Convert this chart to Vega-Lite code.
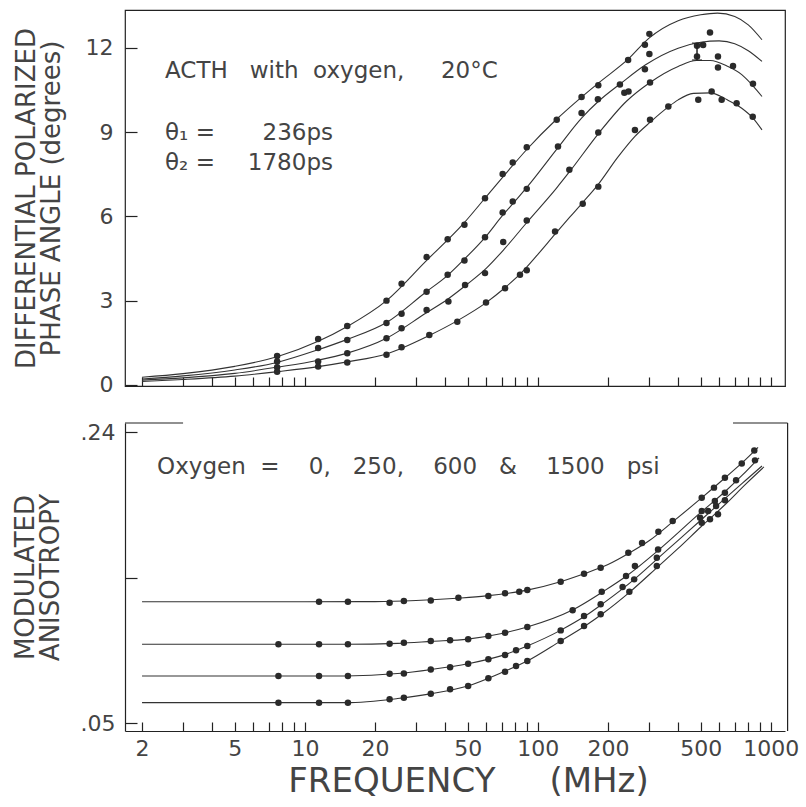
{
  "$schema": "https://vega.github.io/schema/vega-lite/v6.json",
  "background": "white",
  "padding": {"left": 12, "top": 9, "right": 4, "bottom": 2},
  "config": {
    "font": "DejaVu Sans",
    "axis": {
      "grid": false,
      "domainColor": "#222",
      "domainWidth": 1.2,
      "tickColor": "#222",
      "tickWidth": 1.2,
      "labelColor": "#444",
      "titleColor": "#444",
      "labelFont": "DejaVu Sans",
      "titleFont": "DejaVu Sans",
      "labelFontWeight": "normal",
      "titleFontWeight": "normal"
    },
    "concat": {"spacing": 24}
  },
  "datasets": {
    "phase_fit": [
      {"psi": 0, "freq": 2, "phase": 0.27}, {"psi": 0, "freq": 3, "phase": 0.4}, {"psi": 0, "freq": 5, "phase": 0.66}, {"psi": 0, "freq": 7.6, "phase": 1.0}, {"psi": 0, "freq": 11.4, "phase": 1.55}, {"psi": 0, "freq": 15.2, "phase": 2.08}, {"psi": 0, "freq": 22.4, "phase": 3.0}, {"psi": 0, "freq": 33, "phase": 4.4}, {"psi": 0, "freq": 48, "phase": 5.75}, {"psi": 0, "freq": 60, "phase": 6.7}, {"psi": 0, "freq": 75, "phase": 7.65}, {"psi": 0, "freq": 90, "phase": 8.4}, {"psi": 0, "freq": 120, "phase": 9.45}, {"psi": 0, "freq": 154, "phase": 10.25}, {"psi": 0, "freq": 182, "phase": 10.75}, {"psi": 0, "freq": 244, "phase": 11.6}, {"psi": 0, "freq": 300, "phase": 12.35}, {"psi": 0, "freq": 400, "phase": 12.97}, {"psi": 0, "freq": 500, "phase": 13.18}, {"psi": 0, "freq": 590, "phase": 13.24}, {"psi": 0, "freq": 700, "phase": 13.12}, {"psi": 0, "freq": 800, "phase": 12.82}, {"psi": 0, "freq": 916, "phase": 12.29},
      {"psi": 250, "freq": 2, "phase": 0.21}, {"psi": 250, "freq": 3, "phase": 0.32}, {"psi": 250, "freq": 5, "phase": 0.53}, {"psi": 250, "freq": 7.6, "phase": 0.8}, {"psi": 250, "freq": 11.4, "phase": 1.25}, {"psi": 250, "freq": 15.2, "phase": 1.62}, {"psi": 250, "freq": 22.4, "phase": 2.22}, {"psi": 250, "freq": 33, "phase": 3.3}, {"psi": 250, "freq": 41, "phase": 3.9}, {"psi": 250, "freq": 48, "phase": 4.45}, {"psi": 250, "freq": 60, "phase": 5.3}, {"psi": 250, "freq": 70, "phase": 6.0}, {"psi": 250, "freq": 80, "phase": 6.55}, {"psi": 250, "freq": 90, "phase": 7.05}, {"psi": 250, "freq": 122, "phase": 8.45}, {"psi": 250, "freq": 154, "phase": 9.5}, {"psi": 250, "freq": 182, "phase": 10.1}, {"psi": 250, "freq": 228, "phase": 10.75}, {"psi": 250, "freq": 290, "phase": 11.4}, {"psi": 250, "freq": 400, "phase": 11.99}, {"psi": 250, "freq": 500, "phase": 12.2}, {"psi": 250, "freq": 600, "phase": 12.25}, {"psi": 250, "freq": 700, "phase": 12.15}, {"psi": 250, "freq": 800, "phase": 11.9}, {"psi": 250, "freq": 916, "phase": 11.52},
      {"psi": 600, "freq": 2, "phase": 0.17}, {"psi": 600, "freq": 3, "phase": 0.25}, {"psi": 600, "freq": 5, "phase": 0.41}, {"psi": 600, "freq": 7.6, "phase": 0.63}, {"psi": 600, "freq": 11.4, "phase": 0.88}, {"psi": 600, "freq": 15.2, "phase": 1.13}, {"psi": 600, "freq": 22.4, "phase": 1.66}, {"psi": 600, "freq": 33, "phase": 2.55}, {"psi": 600, "freq": 41, "phase": 3.05}, {"psi": 600, "freq": 50, "phase": 3.6}, {"psi": 600, "freq": 60, "phase": 4.15}, {"psi": 600, "freq": 72, "phase": 4.85}, {"psi": 600, "freq": 90, "phase": 5.8}, {"psi": 600, "freq": 120, "phase": 7.0}, {"psi": 600, "freq": 137, "phase": 7.6}, {"psi": 600, "freq": 182, "phase": 8.95}, {"psi": 600, "freq": 240, "phase": 10.1}, {"psi": 600, "freq": 303, "phase": 10.77}, {"psi": 600, "freq": 400, "phase": 11.34}, {"psi": 600, "freq": 480, "phase": 11.55}, {"psi": 600, "freq": 550, "phase": 11.55}, {"psi": 600, "freq": 650, "phase": 11.35}, {"psi": 600, "freq": 750, "phase": 11.05}, {"psi": 600, "freq": 838, "phase": 10.65}, {"psi": 600, "freq": 916, "phase": 10.27},
      {"psi": 1500, "freq": 2, "phase": 0.12}, {"psi": 1500, "freq": 3, "phase": 0.19}, {"psi": 1500, "freq": 5, "phase": 0.31}, {"psi": 1500, "freq": 7.6, "phase": 0.47}, {"psi": 1500, "freq": 11.4, "phase": 0.65}, {"psi": 1500, "freq": 15.2, "phase": 0.82}, {"psi": 1500, "freq": 22.4, "phase": 1.1}, {"psi": 1500, "freq": 34, "phase": 1.75}, {"psi": 1500, "freq": 45, "phase": 2.28}, {"psi": 1500, "freq": 60, "phase": 2.93}, {"psi": 1500, "freq": 72, "phase": 3.45}, {"psi": 1500, "freq": 84, "phase": 3.95}, {"psi": 1500, "freq": 100, "phase": 4.65}, {"psi": 1500, "freq": 118, "phase": 5.35}, {"psi": 1500, "freq": 137, "phase": 5.97}, {"psi": 1500, "freq": 156, "phase": 6.5}, {"psi": 1500, "freq": 182, "phase": 7.15}, {"psi": 1500, "freq": 220, "phase": 8.1}, {"psi": 1500, "freq": 261, "phase": 8.85}, {"psi": 1500, "freq": 303, "phase": 9.35}, {"psi": 1500, "freq": 363, "phase": 9.9}, {"psi": 1500, "freq": 400, "phase": 10.15}, {"psi": 1500, "freq": 465, "phase": 10.38}, {"psi": 1500, "freq": 550, "phase": 10.4}, {"psi": 1500, "freq": 650, "phase": 10.15}, {"psi": 1500, "freq": 750, "phase": 9.85}, {"psi": 1500, "freq": 838, "phase": 9.5}, {"psi": 1500, "freq": 916, "phase": 9.08}
    ],
    "phase_pts": [
      {"psi": 0, "freq": 7.6, "phase": 1.03}, {"psi": 0, "freq": 11.4, "phase": 1.63}, {"psi": 0, "freq": 15.2, "phase": 2.1}, {"psi": 0, "freq": 22.4, "phase": 3.0}, {"psi": 0, "freq": 26, "phase": 3.6}, {"psi": 0, "freq": 33.3, "phase": 4.55}, {"psi": 0, "freq": 41, "phase": 5.19}, {"psi": 0, "freq": 48.4, "phase": 5.7}, {"psi": 0, "freq": 59.3, "phase": 6.65}, {"psi": 0, "freq": 70.6, "phase": 7.51}, {"psi": 0, "freq": 78, "phase": 7.92}, {"psi": 0, "freq": 89.6, "phase": 8.46}, {"psi": 0, "freq": 120.5, "phase": 9.44}, {"psi": 0, "freq": 154, "phase": 10.25}, {"psi": 0, "freq": 181.7, "phase": 10.67}, {"psi": 0, "freq": 244, "phase": 11.57}, {"psi": 0, "freq": 288, "phase": 12.11}, {"psi": 0, "freq": 301, "phase": 12.5},
      {"psi": 250, "freq": 7.6, "phase": 0.83}, {"psi": 250, "freq": 11.4, "phase": 1.31}, {"psi": 250, "freq": 15.2, "phase": 1.6}, {"psi": 250, "freq": 22.4, "phase": 2.2}, {"psi": 250, "freq": 26, "phase": 2.53}, {"psi": 250, "freq": 33.3, "phase": 3.32}, {"psi": 250, "freq": 41, "phase": 3.92}, {"psi": 250, "freq": 48.4, "phase": 4.43}, {"psi": 250, "freq": 59.3, "phase": 5.26}, {"psi": 250, "freq": 70.6, "phase": 6.14}, {"psi": 250, "freq": 78, "phase": 6.53}, {"psi": 250, "freq": 89.6, "phase": 6.98}, {"psi": 250, "freq": 122, "phase": 8.49}, {"psi": 250, "freq": 154, "phase": 9.68}, {"psi": 250, "freq": 181, "phase": 10.17}, {"psi": 250, "freq": 225, "phase": 10.7}, {"psi": 250, "freq": 288, "phase": 11.24}, {"psi": 250, "freq": 301, "phase": 11.78}, {"psi": 250, "freq": 482, "phase": 12.08}, {"psi": 250, "freq": 512, "phase": 12.1}, {"psi": 250, "freq": 548, "phase": 12.55},
      {"psi": 600, "freq": 7.6, "phase": 0.63}, {"psi": 600, "freq": 11.4, "phase": 0.83}, {"psi": 600, "freq": 15.2, "phase": 1.13}, {"psi": 600, "freq": 22.4, "phase": 1.66}, {"psi": 600, "freq": 26, "phase": 2.02}, {"psi": 600, "freq": 33.3, "phase": 2.67}, {"psi": 600, "freq": 41.3, "phase": 2.97}, {"psi": 600, "freq": 48.7, "phase": 3.56}, {"psi": 600, "freq": 59.3, "phase": 3.98}, {"psi": 600, "freq": 71, "phase": 5.09}, {"psi": 600, "freq": 89.6, "phase": 5.85}, {"psi": 600, "freq": 136.5, "phase": 7.66}, {"psi": 600, "freq": 181.7, "phase": 8.99}, {"psi": 600, "freq": 235, "phase": 10.4}, {"psi": 600, "freq": 245, "phase": 10.45}, {"psi": 600, "freq": 303, "phase": 10.77}, {"psi": 600, "freq": 482, "phase": 11.69}, {"psi": 600, "freq": 593, "phase": 11.69}, {"psi": 600, "freq": 593, "phase": 11.3}, {"psi": 600, "freq": 688, "phase": 11.36}, {"psi": 600, "freq": 838, "phase": 10.72},
      {"psi": 1500, "freq": 7.6, "phase": 0.47}, {"psi": 1500, "freq": 11.4, "phase": 0.65}, {"psi": 1500, "freq": 15.2, "phase": 0.8}, {"psi": 1500, "freq": 22.4, "phase": 1.07}, {"psi": 1500, "freq": 26, "phase": 1.34}, {"psi": 1500, "freq": 34.2, "phase": 1.78}, {"psi": 1500, "freq": 45.1, "phase": 2.25}, {"psi": 1500, "freq": 59.9, "phase": 2.93}, {"psi": 1500, "freq": 72.3, "phase": 3.44}, {"psi": 1500, "freq": 83.8, "phase": 3.92}, {"psi": 1500, "freq": 89.6, "phase": 4.08}, {"psi": 1500, "freq": 118.5, "phase": 5.46}, {"psi": 1500, "freq": 155.8, "phase": 6.45}, {"psi": 1500, "freq": 181.7, "phase": 7.06}, {"psi": 1500, "freq": 261, "phase": 9.08}, {"psi": 1500, "freq": 303, "phase": 9.44}, {"psi": 1500, "freq": 363, "phase": 9.91}, {"psi": 1500, "freq": 488, "phase": 10.15}, {"psi": 1500, "freq": 557, "phase": 10.45}, {"psi": 1500, "freq": 615, "phase": 10.15}, {"psi": 1500, "freq": 713, "phase": 10.03}, {"psi": 1500, "freq": 836, "phase": 9.55}
    ],
    "phase_err": [
      {"psi": 250, "freq": 482, "phase": 11.57, "phase_high": 12.17}
    ],
    "phase_err_caps": [
      {"psi": 250, "freq": 482, "phase": 11.57}, {"psi": 250, "freq": 482, "phase": 12.17}
    ],
    "aniso_fit": [
      {"psi": 1500, "freq": 2, "r": 0.1292}, {"psi": 1500, "freq": 10, "r": 0.1292}, {"psi": 1500, "freq": 20, "r": 0.1293}, {"psi": 1500, "freq": 30, "r": 0.13}, {"psi": 1500, "freq": 45, "r": 0.1315}, {"psi": 1500, "freq": 60, "r": 0.133}, {"psi": 1500, "freq": 90, "r": 0.1368}, {"psi": 1500, "freq": 125, "r": 0.1423}, {"psi": 1500, "freq": 160, "r": 0.1478}, {"psi": 1500, "freq": 200, "r": 0.1535}, {"psi": 1500, "freq": 250, "r": 0.1615}, {"psi": 1500, "freq": 300, "r": 0.169}, {"psi": 1500, "freq": 380, "r": 0.1815}, {"psi": 1500, "freq": 500, "r": 0.1965}, {"psi": 1500, "freq": 640, "r": 0.2105}, {"psi": 1500, "freq": 760, "r": 0.2205}, {"psi": 1500, "freq": 881, "r": 0.23},
      {"psi": 600, "freq": 2, "r": 0.1014}, {"psi": 600, "freq": 15, "r": 0.1014}, {"psi": 600, "freq": 25, "r": 0.102}, {"psi": 600, "freq": 35, "r": 0.1033}, {"psi": 600, "freq": 50, "r": 0.1048}, {"psi": 600, "freq": 70, "r": 0.1085}, {"psi": 600, "freq": 90, "r": 0.1127}, {"psi": 600, "freq": 140, "r": 0.1236}, {"psi": 600, "freq": 190, "r": 0.1357}, {"psi": 600, "freq": 240, "r": 0.146}, {"psi": 600, "freq": 330, "r": 0.163}, {"psi": 600, "freq": 500, "r": 0.1875}, {"psi": 600, "freq": 640, "r": 0.2015}, {"psi": 600, "freq": 750, "r": 0.2115}, {"psi": 600, "freq": 890, "r": 0.2232},
      {"psi": 250, "freq": 2, "r": 0.0807}, {"psi": 250, "freq": 15, "r": 0.0807}, {"psi": 250, "freq": 25, "r": 0.0823}, {"psi": 250, "freq": 35, "r": 0.085}, {"psi": 250, "freq": 50, "r": 0.0887}, {"psi": 250, "freq": 70, "r": 0.094}, {"psi": 250, "freq": 90, "r": 0.1003}, {"psi": 250, "freq": 125, "r": 0.1105}, {"psi": 250, "freq": 160, "r": 0.12}, {"psi": 250, "freq": 190, "r": 0.128}, {"psi": 250, "freq": 260, "r": 0.144}, {"psi": 250, "freq": 330, "r": 0.158}, {"psi": 250, "freq": 400, "r": 0.1693}, {"psi": 250, "freq": 500, "r": 0.1824}, {"psi": 250, "freq": 640, "r": 0.197}, {"psi": 250, "freq": 780, "r": 0.2085}, {"psi": 250, "freq": 916, "r": 0.2178},
      {"psi": 0, "freq": 2, "r": 0.0633}, {"psi": 0, "freq": 15, "r": 0.0633}, {"psi": 0, "freq": 25, "r": 0.066}, {"psi": 0, "freq": 35, "r": 0.0692}, {"psi": 0, "freq": 50, "r": 0.0742}, {"psi": 0, "freq": 70, "r": 0.083}, {"psi": 0, "freq": 90, "r": 0.0905}, {"psi": 0, "freq": 125, "r": 0.1035}, {"psi": 0, "freq": 160, "r": 0.1135}, {"psi": 0, "freq": 190, "r": 0.1215}, {"psi": 0, "freq": 250, "r": 0.136}, {"psi": 0, "freq": 330, "r": 0.1525}, {"psi": 0, "freq": 400, "r": 0.164}, {"psi": 0, "freq": 500, "r": 0.178}, {"psi": 0, "freq": 640, "r": 0.193}, {"psi": 0, "freq": 780, "r": 0.206}, {"psi": 0, "freq": 934, "r": 0.2172}
    ],
    "aniso_pts": [
      {"psi": 1500, "freq": 11.5, "r": 0.1292}, {"psi": 1500, "freq": 15.3, "r": 0.1292}, {"psi": 1500, "freq": 23.1, "r": 0.1286}, {"psi": 1500, "freq": 26.6, "r": 0.1297}, {"psi": 1500, "freq": 34.7, "r": 0.13}, {"psi": 1500, "freq": 45.6, "r": 0.1318}, {"psi": 1500, "freq": 61.3, "r": 0.1329}, {"psi": 1500, "freq": 72.3, "r": 0.1347}, {"psi": 1500, "freq": 83.2, "r": 0.1357}, {"psi": 1500, "freq": 90.1, "r": 0.1368}, {"psi": 1500, "freq": 125.3, "r": 0.1423}, {"psi": 1500, "freq": 157.8, "r": 0.1475}, {"psi": 1500, "freq": 186, "r": 0.1514}, {"psi": 1500, "freq": 244.5, "r": 0.1612}, {"psi": 1500, "freq": 280, "r": 0.1675}, {"psi": 1500, "freq": 329, "r": 0.1749}, {"psi": 1500, "freq": 379, "r": 0.1819}, {"psi": 1500, "freq": 505, "r": 0.1971}, {"psi": 1500, "freq": 570, "r": 0.2037}, {"psi": 1500, "freq": 635, "r": 0.2102}, {"psi": 1500, "freq": 750, "r": 0.2194}, {"psi": 1500, "freq": 849, "r": 0.228},
      {"psi": 600, "freq": 7.7, "r": 0.1014}, {"psi": 600, "freq": 11.5, "r": 0.1014}, {"psi": 600, "freq": 15.3, "r": 0.1014}, {"psi": 600, "freq": 23.1, "r": 0.1018}, {"psi": 600, "freq": 26.6, "r": 0.1024}, {"psi": 600, "freq": 34.7, "r": 0.1035}, {"psi": 600, "freq": 42, "r": 0.104}, {"psi": 600, "freq": 50.2, "r": 0.1047}, {"psi": 600, "freq": 61.3, "r": 0.1068}, {"psi": 600, "freq": 72.3, "r": 0.109}, {"psi": 600, "freq": 90.1, "r": 0.1127}, {"psi": 600, "freq": 141, "r": 0.1236}, {"psi": 600, "freq": 188, "r": 0.1357}, {"psi": 600, "freq": 239, "r": 0.146}, {"psi": 600, "freq": 261, "r": 0.1525}, {"psi": 600, "freq": 328, "r": 0.1633}, {"psi": 600, "freq": 505, "r": 0.1884}, {"psi": 600, "freq": 575, "r": 0.195}, {"psi": 600, "freq": 635, "r": 0.2004}, {"psi": 600, "freq": 709, "r": 0.2085}, {"psi": 600, "freq": 855, "r": 0.2215},
      {"psi": 250, "freq": 7.7, "r": 0.0807}, {"psi": 250, "freq": 11.5, "r": 0.0807}, {"psi": 250, "freq": 15.3, "r": 0.0807}, {"psi": 250, "freq": 23.1, "r": 0.0822}, {"psi": 250, "freq": 26.6, "r": 0.0824}, {"psi": 250, "freq": 34.7, "r": 0.085}, {"psi": 250, "freq": 42, "r": 0.0864}, {"psi": 250, "freq": 50.2, "r": 0.0887}, {"psi": 250, "freq": 61.3, "r": 0.0916}, {"psi": 250, "freq": 72.3, "r": 0.0944}, {"psi": 250, "freq": 80.6, "r": 0.0975}, {"psi": 250, "freq": 90.1, "r": 0.1003}, {"psi": 250, "freq": 125.3, "r": 0.1105}, {"psi": 250, "freq": 157.8, "r": 0.1199}, {"psi": 250, "freq": 186, "r": 0.1275}, {"psi": 250, "freq": 231, "r": 0.1388}, {"psi": 250, "freq": 259, "r": 0.1438}, {"psi": 250, "freq": 324, "r": 0.1579}, {"psi": 250, "freq": 497, "r": 0.1841}, {"psi": 250, "freq": 538, "r": 0.1884}, {"psi": 250, "freq": 582, "r": 0.1917}, {"psi": 250, "freq": 635, "r": 0.1954},
      {"psi": 0, "freq": 7.7, "r": 0.0633}, {"psi": 0, "freq": 11.5, "r": 0.0633}, {"psi": 0, "freq": 15.3, "r": 0.0633}, {"psi": 0, "freq": 23.1, "r": 0.0655}, {"psi": 0, "freq": 26.6, "r": 0.0665}, {"psi": 0, "freq": 34.7, "r": 0.0691}, {"psi": 0, "freq": 42, "r": 0.072}, {"psi": 0, "freq": 50.2, "r": 0.0742}, {"psi": 0, "freq": 61.3, "r": 0.0792}, {"psi": 0, "freq": 72.3, "r": 0.0835}, {"psi": 0, "freq": 80.6, "r": 0.0872}, {"psi": 0, "freq": 90.1, "r": 0.0905}, {"psi": 0, "freq": 125.3, "r": 0.1035}, {"psi": 0, "freq": 157.8, "r": 0.1133}, {"psi": 0, "freq": 186, "r": 0.121}, {"psi": 0, "freq": 247, "r": 0.1357}, {"psi": 0, "freq": 324, "r": 0.1525}, {"psi": 0, "freq": 505, "r": 0.1808}, {"psi": 0, "freq": 548, "r": 0.183}, {"psi": 0, "freq": 593, "r": 0.1863}
    ]
  },
  "vconcat": [
    {
      "width": 660,
      "height": 376,
      "view": {"stroke": "#222", "strokeWidth": 1.2},
      "layer": [
        {
          "data": {"name": "phase_fit"},
          "mark": {"type": "line", "interpolate": "monotone", "color": "#333", "strokeWidth": 1.1},
          "encoding": {
            "x": {"field": "freq", "type": "quantitative",
              "scale": {"type": "log", "domain": [1.69, 1150], "nice": false},
              "axis": {"values": [2,3,4,5,6,7,8,9,10,20,30,40,50,60,70,80,90,100,200,300,400,500,600,700,800,900,1000], "labels": false, "tickSize": -9, "title": null, "domain": true}},
            "y": {"field": "phase", "type": "quantitative",
              "scale": {"domain": [-0.04, 13.35], "nice": false, "zero": false},
              "axis": {"values": [0, 3, 6, 9, 12], "tickSize": -12, "labelPadding": 24, "labelFontSize": 22, "domain": false,
                "title": ["DIFFERENTIAL POLARIZED", "PHASE ANGLE (degrees)"], "titleFontSize": 26, "titleLineHeight": 25, "titlePadding": 21}},
            "detail": {"field": "psi", "type": "nominal"}
          }
        },
        {
          "data": {"name": "phase_pts"},
          "mark": {"type": "point", "filled": true, "shape": "circle", "size": 42, "color": "#2a2a2a", "opacity": 1},
          "encoding": {
            "x": {"field": "freq", "type": "quantitative"},
            "y": {"field": "phase", "type": "quantitative"}
          }
        },
        {
          "data": {"name": "phase_err"},
          "mark": {"type": "rule", "color": "#222", "strokeWidth": 1.5},
          "encoding": {
            "x": {"field": "freq", "type": "quantitative"},
            "y": {"field": "phase", "type": "quantitative"},
            "y2": {"field": "phase_high"}
          }
        },
        {
          "data": {"name": "phase_err_caps"},
          "mark": {"type": "tick", "orient": "horizontal", "color": "#222", "size": 10, "thickness": 1.5},
          "encoding": {
            "x": {"field": "freq", "type": "quantitative"},
            "y": {"field": "phase", "type": "quantitative"}
          }
        },
        {
          "data": {"values": [{}]},
          "mark": {"type": "text", "text": "ACTH\u00a0\u00a0\u00a0with\u00a0\u00a0oxygen,\u00a0\u00a0\u00a0\u00a0\u00a020°C", "align": "left", "baseline": "alphabetic", "fontSize": 23, "color": "#444"},
          "encoding": {"x": {"datum": 2.51}, "y": {"datum": 10.93}}
        },
        {
          "data": {"values": [{}]},
          "mark": {"type": "text", "text": "θ₁ =", "align": "left", "baseline": "alphabetic", "fontSize": 23, "color": "#444"},
          "encoding": {"x": {"datum": 2.51}, "y": {"datum": 8.72}}
        },
        {
          "data": {"values": [{}]},
          "mark": {"type": "text", "text": "236ps", "align": "right", "baseline": "alphabetic", "fontSize": 23, "color": "#444"},
          "encoding": {"x": {"datum": 13.2}, "y": {"datum": 8.72}}
        },
        {
          "data": {"values": [{}]},
          "mark": {"type": "text", "text": "θ₂ =", "align": "left", "baseline": "alphabetic", "fontSize": 23, "color": "#444"},
          "encoding": {"x": {"datum": 2.51}, "y": {"datum": 7.66}}
        },
        {
          "data": {"values": [{}]},
          "mark": {"type": "text", "text": "1780ps", "align": "right", "baseline": "alphabetic", "fontSize": 23, "color": "#444"},
          "encoding": {"x": {"datum": 13.2}, "y": {"datum": 7.66}}
        }
      ]
    },
    {
      "width": 660,
      "height": 308,
      "view": {"stroke": null},
      "layer": [
        {
          "data": {"name": "aniso_fit"},
          "mark": {"type": "line", "interpolate": "monotone", "color": "#333", "strokeWidth": 1.1},
          "encoding": {
            "x": {"field": "freq", "type": "quantitative",
              "scale": {"type": "log", "domain": [1.69, 1150], "nice": false},
              "axis": {"values": [2,3,4,5,6,7,8,9,10,20,30,40,50,60,70,80,90,100,200,300,400,500,600,700,800,900,1000],
                "labelExpr": "indexof([2,5,10,20,50,100,200,500,1000], datum.value) >= 0 ? format(datum.value, 'd') : ''",
                "labelOverlap": false, "labelFlush": false, "labelFontSize": 22, "tickSize": -9, "labelPadding": 16,
                "title": "FREQUENCY\u00a0\u00a0\u00a0\u00a0\u00a0(MHz)", "titleFontSize": 34, "titlePadding": 5, "titleX": 343}},
            "y": {"field": "r", "type": "quantitative",
              "scale": {"domain": [0.0448, 0.2459], "nice": false, "zero": false},
              "axis": {"values": [0.05, 0.145, 0.24], "labelExpr": "datum.value < 0.1 ? '.05' : (datum.value > 0.2 ? '.24' : '')",
                "tickSize": -12, "labelPadding": 22, "labelFontSize": 22,
                "title": ["MODULATED", "ANISOTROPY"], "titleFontSize": 26, "titleLineHeight": 25, "titlePadding": 17}},
            "detail": {"field": "psi", "type": "nominal"}
          }
        },
        {
          "data": {"name": "aniso_pts"},
          "mark": {"type": "point", "filled": true, "shape": "circle", "size": 42, "color": "#2a2a2a", "opacity": 1},
          "encoding": {
            "x": {"field": "freq", "type": "quantitative"},
            "y": {"field": "r", "type": "quantitative"}
          }
        },
        {
          "data": {"values": [{}]},
          "mark": {"type": "rule", "color": "#222", "strokeWidth": 1.2},
          "encoding": {"x": {"datum": 1180}, "y": {"datum": 0.0448}, "y2": {"datum": 0.2459}}
        },
        {
          "data": {"values": [{}]},
          "mark": {"type": "rule", "color": "#222", "strokeWidth": 1.2},
          "encoding": {"x": {"datum": 1.69}, "x2": {"datum": 3.0}, "y": {"datum": 0.2459}}
        },
        {
          "data": {"values": [{}]},
          "mark": {"type": "rule", "color": "#222", "strokeWidth": 1.2},
          "encoding": {"x": {"datum": 688}, "x2": {"datum": 1180}, "y": {"datum": 0.2459}}
        },
        {
          "data": {"values": [{}]},
          "mark": {"type": "text", "text": "Oxygen\u00a0\u00a0=\u00a0\u00a0\u00a0\u00a00,\u00a0\u00a0\u00a0250,\u00a0\u00a0\u00a0\u00a0600\u00a0\u00a0\u00a0&\u00a0\u00a0\u00a0\u00a01500\u00a0\u00a0\u00a0psi", "align": "left", "baseline": "alphabetic", "fontSize": 23, "color": "#444"},
          "encoding": {"x": {"datum": 2.32}, "y": {"datum": 0.2126}}
        }
      ]
    }
  ]
}
